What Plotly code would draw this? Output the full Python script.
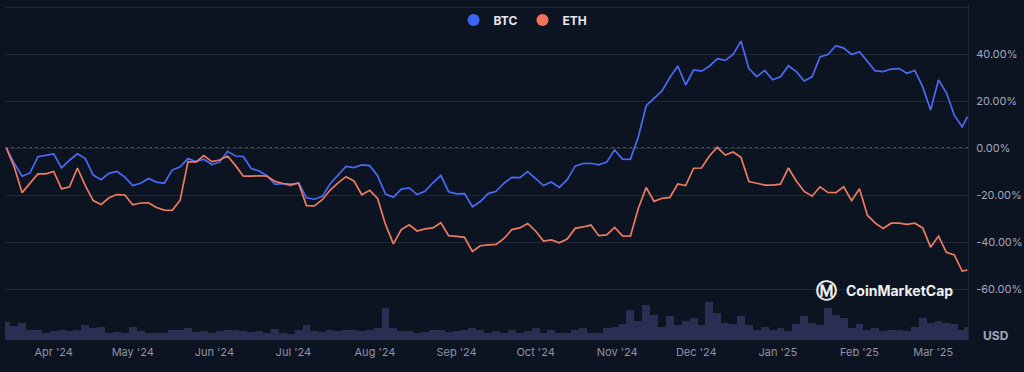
import pandas as pd
import plotly.graph_objects as go

# ---- data (3-day sampling, % change since 2024-03-14) ----
dates = pd.date_range("2024-03-14", periods=122, freq="3D").append(pd.DatetimeIndex(["2025-03-14"]))

btc = [0, -6.5, -12, -10.6, -3.7, -3.2, -2.5, -8.5, -5.2, -2.5,
       -4.5, -11.5, -13.5, -10.8, -10, -12.4, -16, -15, -13, -14.5,
       -15, -9.4, -8, -4.5, -5.8, -4.8, -7, -6, -1.4, -3.4,
       -3.6, -8.7, -9.8, -11.8, -15.5, -15.2, -16, -14.8, -21.2, -21.8,
       -20.6, -15.2, -11.4, -7.8, -8.3, -7.2, -7.5, -11.8, -19.6, -21,
       -17.5, -17, -19.8, -18.4, -14.8, -11.7, -18.6, -19.5, -19.4, -25,
       -22.8, -19.4, -18.4, -15, -12.5, -12.6, -10, -13, -16, -14.5,
       -16.8, -13.5, -7.7, -6.6, -6.5, -7.2, -6, -0.8, -4.7, -4.8,
       4.7, 18, 21, 24.3, 30, 34.9, 26.8, 33.2, 32.7, 34.8,
       38, 37.3, 39.8, 45.5, 33.8, 30.4, 33, 29, 30.3, 35,
       32.5, 28.5, 30.3, 38.7, 39.8, 43.5, 42.5, 39.8, 41, 37,
       32.8, 32.5, 33.6, 33.8, 31.8, 33, 26, 16.2, 29, 23.5,
       14, 9, 13.3]

eth = [0, -8, -19, -14.8, -11, -11, -10, -17.4, -16.5, -8.5,
       -16, -22.4, -24, -21.2, -19.8, -20, -24.2, -23.4, -23.3, -25.3,
       -26.4, -26.5, -22.2, -5.8, -6, -3.2, -5.8, -5.1, -3.4, -7.4,
       -12, -12, -11.8, -12, -14.2, -15.1, -15.5, -15, -24.5, -24.6,
       -22, -17.9, -14.8, -12.2, -14, -19.9, -18, -21.5, -32.5, -40.8,
       -34.7, -32.7, -35.3, -34.4, -34, -31.8, -37.3, -37.6, -38, -44,
       -41.6, -41.2, -41, -38.5, -34.7, -34, -32.1, -35.3, -39.6, -39.1,
       -40.3, -38.7, -34.2, -33.6, -32.8, -37.3, -37, -33.8, -37.4, -37.5,
       -25.7, -16.8, -22.7, -21.4, -21, -15.3, -16, -8.6, -8.5, -3.4,
       0.3, -3, -1.7, -4, -14.3, -15, -15.8, -15.8, -15.4, -8.5,
       -14, -18.5, -20.5, -16.5, -18.9, -19, -16.5, -22.4, -17.3, -28.6,
       -32, -34.2, -32, -32, -32.5, -32, -34, -42.2, -37.5, -44.4,
       -45.5, -52.4, -51.9]

volume = [18, 14, 17, 10, 10, 7, 9, 10, 9, 10,
          15, 12, 13, 7, 8, 7, 13, 9, 7, 7,
          7, 10, 10, 12, 8, 9, 7, 9, 10, 10,
          9, 8, 9, 7, 11, 7, 6, 10, 15, 9,
          8, 10, 9, 10, 10, 9, 10, 12, 32, 12,
          9, 9, 7, 8, 10, 10, 8, 9, 10, 12,
          10, 7, 9, 7, 10, 7, 9, 12, 7, 10,
          7, 7, 10, 12, 7, 7, 12, 13, 16, 30,
          19, 35, 25, 13, 24, 15, 19, 22, 15, 38,
          27, 17, 16, 24, 15, 10, 13, 10, 12, 9,
          16, 24, 17, 15, 32, 25, 22, 12, 16, 10,
          12, 9, 10, 10, 9, 13, 22, 17, 19, 17,
          16, 10, 13]

month_ticks = ["2024-04-01", "2024-05-01", "2024-06-01", "2024-07-01", "2024-08-01",
               "2024-09-01", "2024-10-01", "2024-11-01", "2024-12-01", "2025-01-01",
               "2025-02-01", "2025-03-01"]
month_labels = ["Apr '24", "May '24", "Jun '24", "Jul '24", "Aug '24", "Sep '24",
                "Oct '24", "Nov '24", "Dec '24", "Jan '25", "Feb '25", "Mar '25"]

y_ticks = [60, 40, 20, 0, -20, -40, -60]
y_labels = ["", "40.00%", "20.00%", "0.00%", "-20.00%", "-40.00%", "-60.00%"]

BG = "#0d1421"
GRID = "#222736"
BTC_C = "#4a6af5"
ETH_C = "#ee7b60"
LBL = "#a1a7bb"

fig = go.Figure()

fig.add_trace(go.Bar(x=dates, y=volume, yaxis="y2", width=3 * 86400000,
                     marker=dict(color="#282f52", line=dict(width=0)),
                     showlegend=False, hoverinfo="skip"))

fig.add_trace(go.Scatter(x=dates, y=btc, mode="lines", line=dict(color=BTC_C, width=1.7),
                         showlegend=False, name="BTC"))
fig.add_trace(go.Scatter(x=dates, y=eth, mode="lines", line=dict(color=ETH_C, width=1.7),
                         showlegend=False, name="ETH"))

# legend-only markers
fig.add_trace(go.Scatter(x=[None], y=[None], mode="markers", name="BTC",
                         marker=dict(color="#3d63f5", size=12, symbol="circle")))
fig.add_trace(go.Scatter(x=[None], y=[None], mode="markers", name="ETH",
                         marker=dict(color="#f0735a", size=12, symbol="circle")))

fig.add_shape(type="line", xref="paper", x0=0, x1=1, yref="y", y0=0, y1=0,
              line=dict(color="#7a8091", width=1, dash="dot"), layer="below")

fig.add_annotation(text="<b>CoinMarketCap</b>", xref="paper", yref="paper",
                   x=0.986, y=0.147, xanchor="right", yanchor="middle", showarrow=False,
                   font=dict(family="Inter, Roboto, sans-serif", size=14, color="#eef0f4"))
fig.add_annotation(text="<b>Ⓜ</b>", xref="paper", yref="paper",
                   x=0.866, y=0.147, xanchor="right", yanchor="middle", showarrow=False,
                   font=dict(family="DejaVu Sans, sans-serif", size=21, color="#eef0f4"))
fig.add_annotation(text="<b>USD</b>", xref="paper", yref="paper",
                   x=1.0, y=0.0, xanchor="left", yanchor="bottom", xshift=13, yshift=-5,
                   showarrow=False,
                   font=dict(family="Inter, Roboto, sans-serif", size=12, color=LBL))

fig.update_layout(
    width=1024, height=372,
    margin=dict(l=5, r=56, t=5, b=32),
    paper_bgcolor=BG, plot_bgcolor=BG,
    font=dict(family="Inter, Roboto, sans-serif", color=LBL),
    showlegend=True,
    legend=dict(orientation="h", x=0.538, xanchor="center", y=0.955, yanchor="middle",
                bgcolor="rgba(0,0,0,0)",
                font=dict(size=12, color="#e6e8ee", family="Inter, Roboto, sans-serif",
                          weight="bold"),
                itemwidth=30, tracegroupgap=0),
    bargap=0,
    xaxis=dict(range=["2024-03-13 12:00", "2025-03-14 05:00"], type="date",
               tickvals=month_ticks, ticktext=month_labels, showgrid=False,
               zeroline=False, showline=False, ticks="", automargin=False,
               tickfont=dict(size=11, color="#8c93a6"), ticklabelstandoff=4),
    yaxis=dict(domain=[0, 1], range=[-81.7, 60.85], side="right",
               tickvals=y_ticks, ticktext=y_labels, showgrid=True, gridcolor=GRID,
               gridwidth=1, zeroline=False, showline=True, linecolor=GRID, linewidth=1,
               ticks="", automargin=False,
               tickfont=dict(size=11, color=LBL), ticklabelstandoff=5),
    yaxis2=dict(domain=[0, 0.118], range=[0, 40], showgrid=False, zeroline=False,
                showticklabels=False, showline=False, anchor="x"),
)

fig.write_html(
    "out.html",
    config={"displayModeBar": False},
    post_script="document.body.style.margin='0';document.body.style.background='#0d1421';",
)
